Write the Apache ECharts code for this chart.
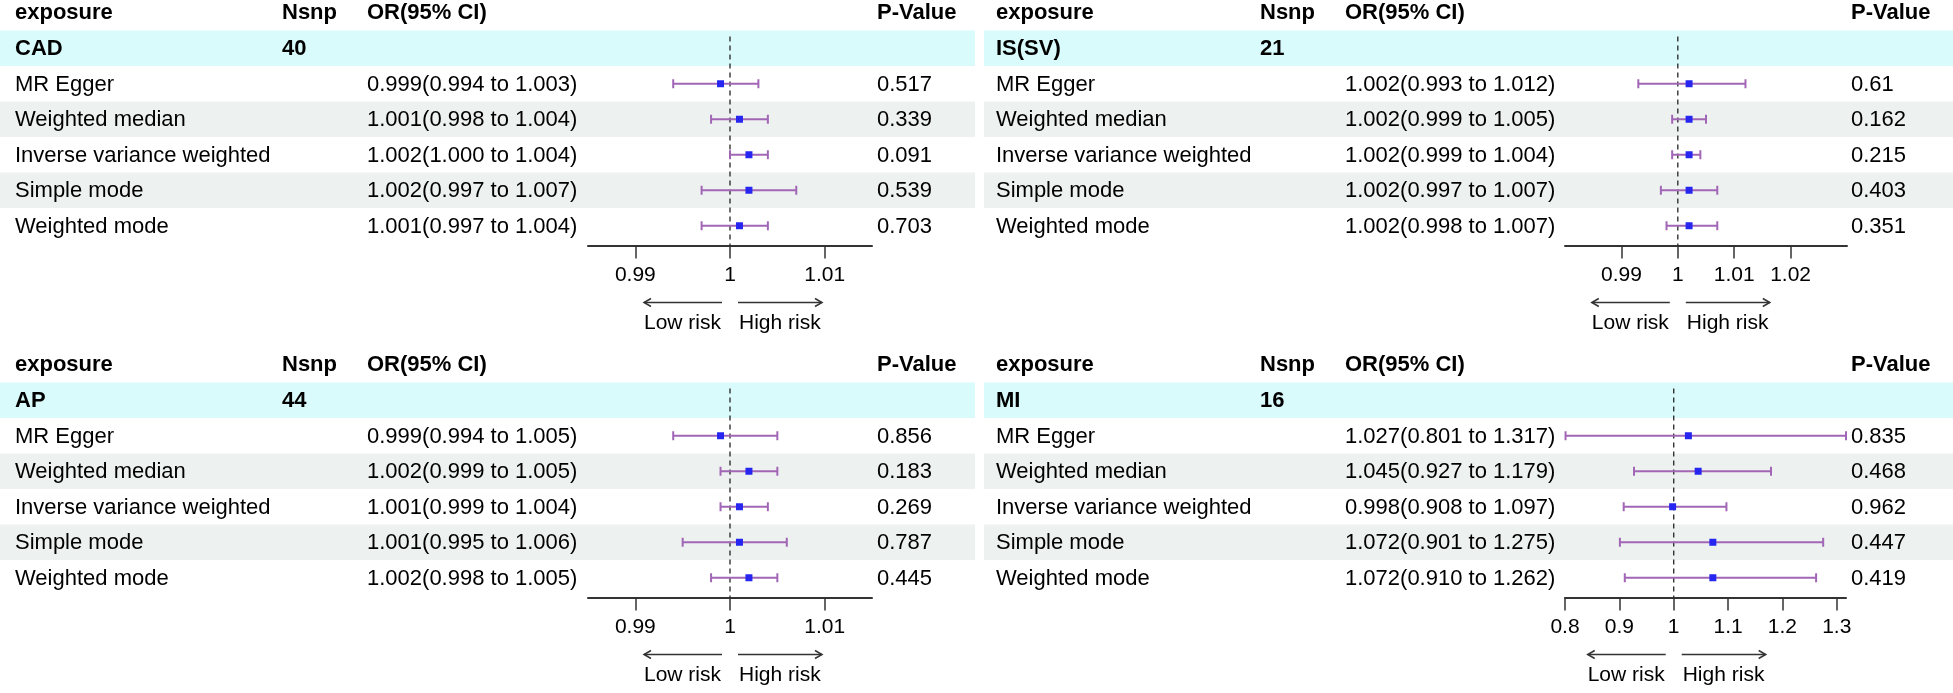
<!DOCTYPE html>
<html>
<head>
<meta charset="utf-8">
<title>MR forest plots</title>
<script src="https://cdn.jsdelivr.net/npm/echarts@6/dist/echarts.min.js"></script>
<style>
html,body{margin:0;padding:0;background:#fff;}
#main{width:1953px;height:693px;}
</style>
</head>
<body>
<div id="main"></div>
<script>
// methods (rows)
var methods = ['MR Egger', 'Weighted median', 'Inverse variance weighted', 'Simple mode', 'Weighted mode'];
// exposure headers
var exposures = ['CAD', 'IS(SV)', 'AP', 'MI'];
var nsnps = [40, 21, 44, 16];
// CAD
var cadOR = [0.999, 1.001, 1.002, 1.002, 1.001];
var cadLo = [0.994, 0.998, 1.000, 0.997, 0.997];
var cadHi = [1.003, 1.004, 1.004, 1.007, 1.004];
var cadP = ['0.517', '0.339', '0.091', '0.539', '0.703'];
// IS(SV)
var isOR = [1.002, 1.002, 1.002, 1.002, 1.002];
var isLo = [0.993, 0.999, 0.999, 0.997, 0.998];
var isHi = [1.012, 1.005, 1.004, 1.007, 1.007];
var isP = ['0.61', '0.162', '0.215', '0.403', '0.351'];
// AP
var apOR = [0.999, 1.002, 1.001, 1.001, 1.002];
var apLo = [0.994, 0.999, 0.999, 0.995, 0.998];
var apHi = [1.005, 1.005, 1.004, 1.006, 1.005];
var apP = ['0.856', '0.183', '0.269', '0.787', '0.445'];
// MI
var miOR = [1.027, 1.045, 0.998, 1.072, 1.072];
var miLo = [0.801, 0.927, 0.908, 0.901, 0.910];
var miHi = [1.317, 1.179, 1.097, 1.275, 1.262];
var miP = ['0.835', '0.468', '0.962', '0.447', '0.419'];
// x axis ticks / ranges
var cadTicks = [0.99, 1, 1.01];
var isTicks = [0.99, 1, 1.01, 1.02];
var apTicks = [0.99, 1, 1.01];
var miTicks = [0.8, 0.9, 1, 1.1, 1.2, 1.3];
var cadRange = [0.985, 1.015];
var isRange = [0.98, 1.03];
var apRange = [0.985, 1.015];
var miRange = [0.8, 1.317];

var FONT = '"Liberation Sans", Arial, Helvetica, sans-serif';
var ROW_H = 35.5;
var rowNames = ['group'].concat(methods);

// 面板布局
var panels = [
    {name: exposures[0], nsnp: nsnps[0], or: cadOR, lo: cadLo, hi: cadHi, p: cadP, range: cadRange, ticks: cadTicks,
        left: 0, top: 30.5, width: 975, cols: [15, 282, 367, 877], fLeft: 588, fWidth: 284},
    {name: exposures[1], nsnp: nsnps[1], or: isOR, lo: isLo, hi: isHi, p: isP, range: isRange, ticks: isTicks,
        left: 984, top: 30.5, width: 969, cols: [12, 276, 361, 867], fLeft: 1565, fWidth: 282},
    {name: exposures[2], nsnp: nsnps[2], or: apOR, lo: apLo, hi: apHi, p: apP, range: apRange, ticks: apTicks,
        left: 0, top: 382.5, width: 975, cols: [15, 282, 367, 877], fLeft: 588, fWidth: 284},
    {name: exposures[3], nsnp: nsnps[3], or: miOR, lo: miLo, hi: miHi, p: miP, range: miRange, ticks: miTicks,
        left: 984, top: 382.5, width: 969, cols: [12, 276, 361, 867], fLeft: 1565, fWidth: 281}
];

function fmt3(v) {
    return v.toFixed(3);
}

function tickFmt(v) {
    return String(parseFloat(Number(v).toFixed(3)));
}

function textEl(x, y, s, bold, align, size) {
    return {
        type: 'text', silent: true,
        style: {
            x: x, y: y, text: s, fill: '#000',
            font: (bold ? 'bold ' : '') + (size || 22) + 'px ' + FONT,
            textAlign: align || 'left', textVerticalAlign: 'middle'
        }
    };
}

// 表格（底色 + 文本）
function tableRender(P) {
    return function (params, api) {
        var r = api.value(1);
        var cs = params.coordSys;
        var cy = api.coord([0, r])[1];
        var children = [];
        var fill = r === 0 ? '#D9FBFC' : (r % 2 === 0 ? '#EDF1EF' : null);
        if (fill) {
            children.push({type: 'rect', silent: true, shape: {x: cs.x, y: cy - ROW_H / 2, width: cs.width, height: ROW_H}, style: {fill: fill}});
        }
        var xs = P.cols.map(function (c) { return api.coord([c, r])[0]; });
        var ty = cy + 1;
        if (r === 0) {
            var hy = cy - ROW_H / 2 - 17.5;
            children.push(textEl(xs[0], hy, 'exposure', true));
            children.push(textEl(xs[1], hy, 'Nsnp', true));
            children.push(textEl(xs[2], hy, 'OR(95% CI)', true));
            children.push(textEl(xs[3], hy, 'P-Value', true));
            children.push(textEl(xs[0], ty, P.name, true));
            children.push(textEl(xs[1], ty, String(P.nsnp), true));
        } else {
            var k = r - 1;
            children.push(textEl(xs[0], ty, methods[k], false));
            children.push(textEl(xs[2], ty, fmt3(P.or[k]) + '(' + fmt3(P.lo[k]) + ' to ' + fmt3(P.hi[k]) + ')', false));
            children.push(textEl(xs[3], ty, P.p[k], false));
        }
        return {type: 'group', children: children};
    };
}

// 置信区间
function ciRender(params, api) {
    var r = api.value(2);
    var p0 = api.coord([api.value(0), r]);
    var p1 = api.coord([api.value(1), r]);
    var st = {stroke: '#A266B6', lineWidth: 2};
    return {
        type: 'group',
        children: [
            {type: 'line', shape: {x1: p0[0], y1: p0[1], x2: p1[0], y2: p1[1]}, style: st},
            {type: 'line', shape: {x1: p0[0], y1: p0[1] - 4.5, x2: p0[0], y2: p0[1] + 4.5}, style: st},
            {type: 'line', shape: {x1: p1[0], y1: p1[1] - 4.5, x2: p1[0], y2: p1[1] + 4.5}, style: st}
        ]
    };
}

// 参考线 + 箭头
function refRender(params, api) {
    var cs = params.coordSys;
    var x = api.coord([api.value(0), 0])[0];
    var axisY = cs.y + cs.height + 2;
    var ay = axisY + 57;
    var ly = axisY + 78;
    var st = {stroke: '#333', lineWidth: 1.5};
    return {
        type: 'group',
        children: [
            {type: 'line', shape: {x1: x, y1: cs.y + 6, x2: x, y2: axisY}, style: {stroke: '#333', lineWidth: 1.4, lineDash: [5, 4]}},
            {type: 'line', shape: {x1: x - 8, y1: ay, x2: x - 86, y2: ay}, style: st},
            {type: 'polyline', shape: {points: [[x - 79, ay - 4], [x - 86, ay], [x - 79, ay + 4]]}, style: {stroke: '#333', lineWidth: 1.5, fill: null}},
            {type: 'line', shape: {x1: x + 8, y1: ay, x2: x + 92, y2: ay}, style: st},
            {type: 'polyline', shape: {points: [[x + 85, ay - 4], [x + 92, ay], [x + 85, ay + 4]]}, style: {stroke: '#333', lineWidth: 1.5, fill: null}},
            textEl(x - 9, ly, 'Low risk', false, 'right', 21),
            textEl(x + 9, ly, 'High risk', false, 'left', 21)
        ]
    };
}

var grids = [], xAxes = [], yAxes = [], series = [];
panels.forEach(function (P, i) {
    var h = ROW_H * rowNames.length;
    var gT = 2 * i, gF = 2 * i + 1;
    grids.push({left: P.left, top: P.top, width: P.width, height: h});
    grids.push({left: P.fLeft, top: P.top, width: P.fWidth, height: h});
    xAxes.push({gridIndex: gT, type: 'value', min: 0, max: P.width, show: false});
    yAxes.push({gridIndex: gT, type: 'category', data: rowNames, inverse: true, show: false});
    xAxes.push({
        gridIndex: gF, type: 'value', min: P.range[0], max: P.range[1], offset: 2,
        axisLine: {show: true, onZero: false, lineStyle: {color: '#333', width: 2}},
        axisTick: {show: true, length: 13, customValues: P.ticks, lineStyle: {color: '#333', width: 1.5}},
        axisLabel: {customValues: P.ticks, formatter: tickFmt, fontSize: 21, fontFamily: FONT, color: '#000', margin: 19},
        splitLine: {show: false}
    });
    yAxes.push({gridIndex: gF, type: 'category', data: rowNames, inverse: true, show: false});

    var rows = rowNames.map(function (n, r) { return [0, r]; });
    var ci = [], pts = [];
    for (var k = 0; k < methods.length; k++) {
        ci.push([P.lo[k], P.hi[k], k + 1]);
        pts.push([P.or[k], k + 1]);
    }
    series.push({type: 'custom', xAxisIndex: gT, yAxisIndex: gT, data: rows, renderItem: tableRender(P), clip: false, silent: true, z: 1});
    series.push({type: 'custom', xAxisIndex: gF, yAxisIndex: gF, data: [[1, 0]], renderItem: refRender, clip: false, silent: true, z: 3});
    series.push({type: 'custom', xAxisIndex: gF, yAxisIndex: gF, data: ci, encode: {x: [0, 1], y: 2}, renderItem: ciRender, clip: false, silent: true, z: 4});
    series.push({type: 'scatter', xAxisIndex: gF, yAxisIndex: gF, data: pts, symbol: 'rect', symbolSize: 7, itemStyle: {color: '#2626F0', opacity: 1}, silent: true, z: 5});
});

var chart = echarts.init(document.getElementById('main'));
chart.setOption({
    animation: false,
    backgroundColor: '#fff',
    grid: grids,
    xAxis: xAxes,
    yAxis: yAxes,
    series: series
});
</script>
</body>
</html>
